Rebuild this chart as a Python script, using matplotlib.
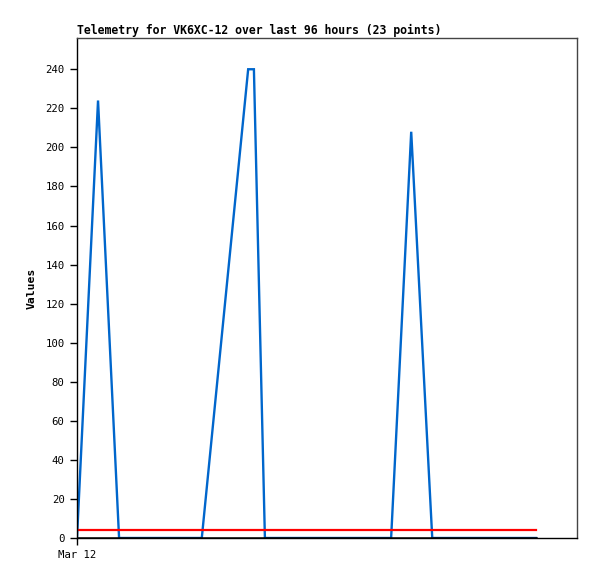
import matplotlib
matplotlib.use("Agg")
import matplotlib.pyplot as plt

# hours since Mar 12 00:00 and the telemetry values
hours = [0.0, 4.4, 8.8, 26.1, 35.8, 37.0, 39.3, 65.7, 69.9, 74.3, 96.0]
values = [0, 224, 0, 0, 240, 240, 0, 0, 208, 0, 0]

# flat reference series
ref_hours = [0.0, 96.0]
red_level = [4, 4]
black_level = [0, 0]

yticks = list(range(0, 241, 20))
xtick_pos = [0]
xtick_labels = ["Mar 12"]

mono = "DejaVu Sans Mono"

fig = plt.figure(figsize=(5.97, 5.79), dpi=100)
ax = fig.add_axes([77 / 597, 41 / 579, 500 / 597, 500 / 579])

ax.plot(hours, values, color="#0066cc", lw=1.7, solid_joinstyle="miter")
ax.plot(ref_hours, red_level, color="#ff0000", lw=1.6)
ax.plot(ref_hours, black_level, color="black", lw=1.8)

ax.set_xlim(0, 96 * 500 / 459)
ax.set_ylim(0, 256)

ax.set_yticks(yticks)
ax.set_yticklabels([str(v) for v in yticks], family=mono, fontsize=7.7)
ax.set_xticks(xtick_pos)
ax.set_xticklabels(xtick_labels, family=mono, fontsize=7.7)
ax.tick_params(direction="out", length=5, width=1, colors="black", pad=4)

for side in ["top", "right"]:
    ax.spines[side].set_color("#444444")
    ax.spines[side].set_linewidth(1)
for side in ["left", "bottom"]:
    ax.spines[side].set_color("black")
    ax.spines[side].set_linewidth(1)

ax.set_ylabel("Values", family=mono, fontsize=8.2, fontweight="bold", labelpad=6)
ax.set_title("Telemetry for VK6XC-12 over last 96 hours (23 points)",
             family=mono, fontsize=8.3, fontweight="bold", loc="left", pad=3)

fig.savefig("out.png", dpi=100, facecolor="white")
